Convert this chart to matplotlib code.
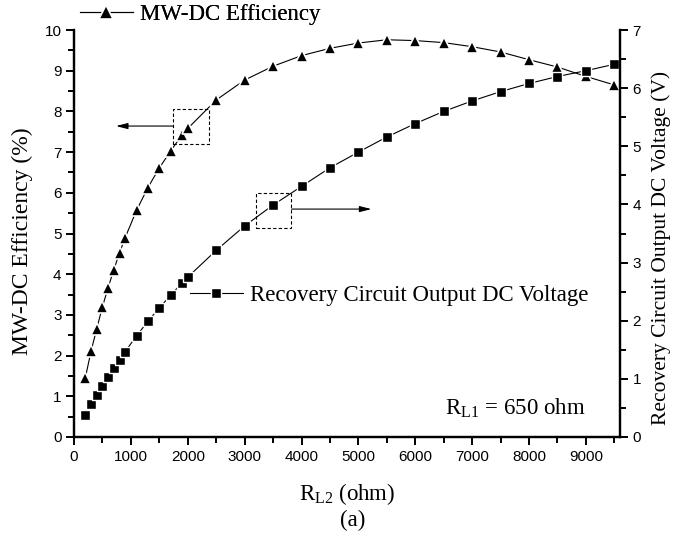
import matplotlib
matplotlib.use("Agg")
import matplotlib.pyplot as plt
from matplotlib.patches import Rectangle
from matplotlib.ticker import MultipleLocator

plt.rcParams['mathtext.fontset'] = 'custom'
plt.rcParams['mathtext.rm'] = 'Liberation Serif'
plt.rcParams['mathtext.it'] = 'Liberation Serif:italic'

# Data
rl2_eff = [200, 300, 400, 500, 600, 700, 800, 900, 1100, 1300, 1500, 1700, 1900, 2000,
           2500, 3000, 3500, 4000, 4500, 5000, 5500, 6000, 6500, 7000, 7500, 8000,
           8500, 9000, 9500]
efficiency = [1.46, 2.11, 2.66, 3.20, 3.67, 4.11, 4.52, 4.90, 5.57, 6.13, 6.61, 7.03,
              7.42, 7.58, 8.28, 8.77, 9.11, 9.37, 9.55, 9.68, 9.76, 9.74, 9.69, 9.59,
              9.46, 9.27, 9.09, 8.86, 8.65]
rl2_volt = rl2_eff
voltage = [0.37, 0.56, 0.72, 0.88, 1.04, 1.19, 1.33, 1.47, 1.74, 1.99, 2.22, 2.44,
           2.65, 2.75, 3.21, 3.63, 3.99, 4.31, 4.63, 4.90, 5.16, 5.39, 5.60, 5.78,
           5.94, 6.08, 6.20, 6.30, 6.41]

serif = 'Liberation Serif'
sans = 'Liberation Sans'
FS = 16.5

fig = plt.figure(figsize=(6.73, 5.39), dpi=100)
ax = fig.add_axes([74/673, 1-437/539, (620-74)/673, (437-30)/539])
ax2 = ax.twinx()

l1, = ax.plot(rl2_eff, efficiency, color='black', lw=0.8, marker='^', ms=8.5,
              mec='white', mew=1.2, mfc='black', label='MW-DC Efficiency')
l2, = ax2.plot(rl2_volt, voltage, color='black', lw=0.8, marker='s', ms=7,
               mec='white', mew=1.0, mfc='black',
               label='Recovery Circuit Output DC Voltage')

ax.set_xlim(0, 9600)
ax.set_ylim(0, 10)
ax2.set_ylim(0, 7)

ax.xaxis.set_major_locator(MultipleLocator(1000))
ax.xaxis.set_minor_locator(MultipleLocator(500))
ax.yaxis.set_major_locator(MultipleLocator(1))
ax.yaxis.set_minor_locator(MultipleLocator(0.5))
ax2.yaxis.set_major_locator(MultipleLocator(1))
ax2.yaxis.set_minor_locator(MultipleLocator(0.5))

for a in (ax, ax2):
    a.spines['top'].set_visible(False)
    for s in a.spines.values():
        s.set_linewidth(1.6)
    a.tick_params(which='major', direction='out', length=6, width=1.4,
                  labelsize=11)
    a.tick_params(which='minor', direction='out', length=4, width=1.4)
    for lab in a.get_xticklabels() + a.get_yticklabels():
        lab.set_fontfamily(sans)
ax.tick_params(axis='y', pad=3)
ax2.tick_params(axis='y', pad=3)
ax.set_xticks(ax.get_xticks())
ax.set_xticklabels([f'{int(v)}' for v in ax.get_xticks()], fontfamily=sans)
ax.set_xlim(0, 9600)

ax.set_ylabel('MW-DC Efficiency (%)', fontfamily=serif, fontsize=17)
ax.yaxis.set_label_coords(-41/546, 0.48)
ax2.set_ylabel('Recovery Circuit Output DC Voltage (V)', fontfamily=serif,
               fontsize=15.5)
ax2.yaxis.set_label_coords(1 + 31/546, 0.465)
ax.set_xlabel(r'R$_{\mathrm{L2}}$ (ohm)', fontfamily=serif, fontsize=FS, labelpad=12)
fig.text(353/673, 1 - 520/539, '(a)', fontfamily=serif,
         fontsize=FS, ha='center', va='center')

ax.text((585-74)/546, 0.07, r'R$_{\mathrm{L1}}$ = 650 ohm', transform=ax.transAxes,
        ha='right', va='center', fontfamily=serif, fontsize=FS)

# annotation boxes and arrows
ax.add_patch(Rectangle((1745, 7.19), 2372 - 1745, 8.06 - 7.19, fill=False,
                       ls=(0, (3, 2)), lw=0.8, ec='black', zorder=1))
ax.annotate('', xy=(739, 7.64), xytext=(1745, 7.64),
            arrowprops=dict(arrowstyle='-|>,head_length=0.7,head_width=0.18',
                            color='black', lw=0.8, shrinkA=0, shrinkB=0))
ax2.add_patch(Rectangle((3200, 3.59), 3824 - 3200, 4.20 - 3.59, fill=False,
                        ls=(0, (3, 2)), lw=0.8, ec='black', zorder=1))
ax2.annotate('', xy=(5228, 3.92), xytext=(3824, 3.92),
             arrowprops=dict(arrowstyle='-|>,head_length=0.7,head_width=0.18',
                             color='black', lw=0.8, shrinkA=0, shrinkB=0))

leg1 = ax.legend(handles=[l1], loc='center left', bbox_to_anchor=(6/546, 1.037),
                 frameon=False, prop={'family': serif, 'size': FS},
                 handlelength=2.3, handletextpad=0.3, borderaxespad=0,
                 borderpad=0, markerscale=1.15)
ax.add_artist(leg1)
leg2 = ax2.legend(handles=[l2], loc='center left', bbox_to_anchor=(116/546, 0.348),
                  frameon=False, prop={'family': serif, 'size': FS},
                  handlelength=2.3, handletextpad=0.3, borderaxespad=0,
                  borderpad=0, markerscale=1.1)

fig.savefig('out.png', dpi=100)
